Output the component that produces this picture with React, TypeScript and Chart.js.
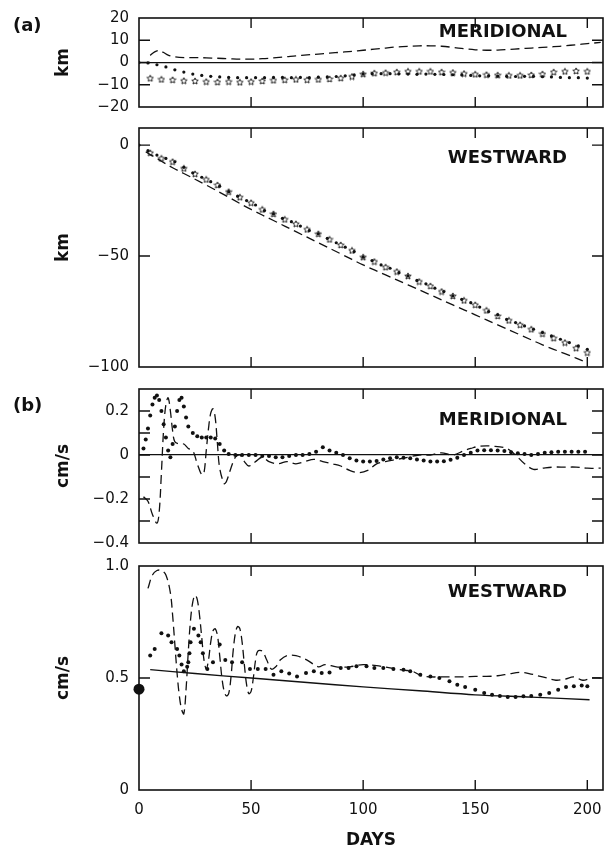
import React, { useEffect, useRef } from 'react';
import { Chart, registerables } from 'chart.js';
Chart.register(...registerables);

const FONT = "'DejaVu Sans', sans-serif";
const INK = '#111';

// ---------- shared x axis ----------
const X_MIN = 0;
const X_MAX = 207;
const X_TICKS = [0, 50, 100, 150, 200];
const X_TICK_LABELS = ['0', '50', '100', '150', '200'];

// ---------- (a) MERIDIONAL, km ----------
const A1_Y_TICKS = [-20, -10, 0, 10, 20];
const A1_Y_LABELS = ['\u221220', '\u221210', '0', '10', '20'];
const A1_DASH_DAYS = [5, 7, 9, 11, 13, 15, 18, 22, 26, 30, 35, 40, 45, 50, 55, 60, 65, 70, 75, 80, 85, 90, 95, 100, 105, 110, 115, 120, 125, 130, 135, 140, 145, 150, 155, 160, 165, 170, 175, 180, 185, 190, 195, 200, 206];
const A1_DASH_KM = [3.2, 4.8, 5.4, 4.5, 3.3, 2.7, 2.3, 2.2, 2.2, 2.1, 1.9, 1.7, 1.5, 1.5, 1.7, 2.1, 2.5, 3.0, 3.4, 3.8, 4.2, 4.6, 5.0, 5.5, 6.0, 6.5, 7.0, 7.3, 7.5, 7.5, 7.3, 6.8, 6.2, 5.7, 5.5, 5.6, 5.9, 6.2, 6.5, 6.8, 7.1, 7.5, 8.0, 8.5, 9.0];
const A1_DOT_DAYS = [0, 4, 8, 12, 16, 20, 24, 28, 32, 36, 40, 44, 48, 52, 56, 60, 64, 68, 72, 76, 80, 84, 88, 92, 96, 100, 104, 108, 112, 116, 120, 124, 128, 132, 136, 140, 144, 148, 152, 156, 160, 164, 168, 172, 176, 180, 184, 188, 192, 196, 200];
const A1_DOT_KM = [0, -0.2, -1.0, -2.0, -3.3, -4.3, -5.2, -5.8, -6.2, -6.5, -6.7, -6.8, -6.8, -6.8, -6.8, -6.7, -6.7, -6.8, -6.7, -6.8, -6.6, -6.5, -6.3, -6.0, -5.6, -5.2, -5.0, -5.0, -5.0, -5.1, -5.2, -5.3, -5.2, -5.3, -5.4, -5.5, -5.6, -5.8, -6.0, -6.0, -6.1, -6.2, -6.3, -6.2, -6.2, -6.4, -6.5, -6.7, -6.8, -6.8, -7.0];
const A1_STAR_DAYS = [5, 10, 15, 20, 25, 30, 35, 40, 45, 50, 55, 60, 65, 70, 75, 80, 85, 90, 95, 100, 105, 110, 115, 120, 125, 130, 135, 140, 145, 150, 155, 160, 165, 170, 175, 180, 185, 190, 195, 200];
const A1_STAR_KM = [-7.1, -7.6, -7.8, -8.2, -8.3, -8.6, -8.8, -8.6, -8.9, -8.6, -8.3, -8.0, -7.8, -7.6, -7.8, -7.6, -7.4, -7.0, -6.3, -5.2, -4.8, -4.6, -4.3, -4.0, -4.0, -4.0, -4.3, -4.5, -5.0, -5.3, -5.5, -5.7, -5.8, -5.8, -5.6, -5.2, -4.3, -4.0, -3.8, -4.0];

// ---------- (a) WESTWARD, km ----------
const A2_Y_TICKS = [-100, -50, 0];
const A2_Y_LABELS = ['\u2212100', '\u221250', '0'];
const A2_DASH_DAYS = [3, 5, 8, 10, 15, 20, 30, 40, 50, 60, 70, 80, 90, 100, 110, 120, 130, 140, 150, 160, 170, 180, 190, 200];
const A2_DASH_KM = [-3, -4.3, -6, -7.3, -10.2, -12.8, -18, -23.5, -29, -34, -39, -44, -49, -54, -58.5, -63, -67.5, -72, -76.5, -81, -85.5, -90, -94, -98];
const A2_DOT_DAYS = [0, 4, 8, 12, 16, 20, 24, 28, 32, 36, 40, 44, 48, 52, 56, 60, 64, 68, 72, 76, 80, 84, 88, 92, 96, 100, 104, 108, 112, 116, 120, 124, 128, 132, 136, 140, 144, 148, 152, 156, 160, 164, 168, 172, 176, 180, 184, 188, 192, 196, 200];
const A2_DOT_KM = [0, -2.5, -4.5, -6, -7.5, -10, -12.5, -14.5, -16.5, -18.5, -21, -23, -25, -27, -29.5, -31, -33, -34.5, -36.5, -38.5, -40, -42, -44, -46, -48, -50.5, -52, -54, -55.5, -57.5, -59, -61, -62.5, -64.5, -66, -68, -69.5, -71, -73, -75, -76.5, -78.5, -80, -81.5, -83, -84.5, -86, -87.5, -89, -90.5, -92];
const A2_STAR_DAYS = [5, 10, 15, 20, 25, 30, 35, 40, 45, 50, 55, 60, 65, 70, 75, 80, 85, 90, 95, 100, 105, 110, 115, 120, 125, 130, 135, 140, 145, 150, 155, 160, 165, 170, 175, 180, 185, 190, 195, 200];
const A2_STAR_KM = [-3.5, -6, -7.5, -10.5, -13, -15.5, -18, -21, -23.5, -26, -29, -31, -33.5, -35.5, -38, -40, -42.5, -45, -47.5, -50.5, -52.5, -55, -57, -59, -61.5, -63.5, -66, -68, -70, -72, -74.5, -77, -79, -81, -83, -85, -87, -89, -91.5, -93.5];

// ---------- (b) MERIDIONAL, cm/s ----------
const B1_Y_TICKS = [-0.4, -0.3, -0.2, -0.1, 0, 0.1, 0.2];
const B1_Y_LABELS = ['\u22120.4', '', '\u22120.2', '', '0', '', '0.2'];
const B1_DASH_DAYS = [2, 4, 6, 8, 9, 10, 11, 12, 13, 14, 15, 16, 18, 20, 22, 24, 26, 28, 29, 30, 31, 32, 33, 34, 35, 36, 38, 39, 41, 43, 45, 47, 49, 52, 55, 58, 62, 66, 70, 74, 78, 82, 86, 90, 94, 98, 102, 106, 110, 115, 120, 125, 130, 135, 140, 145, 148, 152, 158, 164, 168, 172, 176, 180, 185, 190, 195, 200, 206];
const B1_DASH_V = [-0.19, -0.21, -0.27, -0.31, -0.26, -0.08, 0.12, 0.23, 0.26, 0.2, 0.11, 0.06, 0.05, 0.05, 0.03, 0.02, -0.04, -0.09, -0.08, 0.02, 0.12, 0.19, 0.21, 0.17, 0.05, -0.06, -0.13, -0.12, -0.06, -0.01, 0.0, -0.03, -0.05, -0.03, -0.01, -0.03, -0.04, -0.03, -0.04, -0.03, -0.02, -0.03, -0.04, -0.05, -0.07, -0.08, -0.07, -0.04, -0.03, -0.02, -0.01, 0.0, 0.0, 0.01, 0.0, 0.02, 0.03, 0.04, 0.04, 0.03, 0.0, -0.04, -0.065, -0.06, -0.055, -0.055, -0.055, -0.06, -0.06];
const B1_DOT_DAYS = [2, 3, 4, 5, 6, 7, 8, 9, 10, 11, 12, 13, 14, 15, 16, 17, 18, 19, 20, 21, 22, 24, 26, 28, 30, 32, 34, 36, 38, 40, 43, 46, 49, 52, 55, 58, 61, 64, 67, 70, 73, 76, 79, 82, 85, 88, 91, 94, 97, 100, 103, 106, 109, 112, 115, 118, 121, 124, 127, 130, 133, 136, 139, 142, 145, 148, 151, 154, 157, 160, 163, 166, 169, 172, 175, 178, 181, 184, 187, 190, 193, 196, 199];
const B1_DOT_V = [0.03, 0.07, 0.12, 0.18, 0.23, 0.26, 0.27, 0.25, 0.2, 0.14, 0.08, 0.02, -0.01, 0.05, 0.13, 0.2, 0.25, 0.26, 0.22, 0.17, 0.13, 0.1, 0.085, 0.08, 0.08, 0.08, 0.075, 0.05, 0.02, 0.005, 0.0, 0.0, 0.0, 0.0, -0.005, -0.005, -0.01, -0.01, -0.005, 0.0, 0.0, 0.005, 0.015, 0.035, 0.02, 0.01, 0.0, -0.015, -0.025, -0.03, -0.03, -0.027, -0.02, -0.015, -0.01, -0.012, -0.015, -0.02, -0.025, -0.03, -0.03, -0.028, -0.022, -0.012, 0.0, 0.01, 0.02, 0.022, 0.022, 0.02, 0.018, 0.012, 0.008, 0.004, 0.0, 0.005, 0.01, 0.013, 0.015, 0.015, 0.015, 0.015, 0.015];

// ---------- (b) WESTWARD, cm/s ----------
const B2_Y_TICKS = [0, 0.5, 1.0];
const B2_Y_LABELS = ['0', '0.5', '1.0'];
const B2_DASH_DAYS = [4, 6, 8, 10, 12, 14, 15, 16, 17, 18, 19, 20, 21, 22, 23, 24, 25, 26, 27, 28, 29, 30, 31, 32, 33, 34, 35, 36, 37, 38, 39, 40, 41, 42, 43, 44, 45, 46, 47, 48, 49, 50, 51, 52, 53, 55, 57, 59, 61, 63, 66, 70, 75, 80, 83, 88, 94, 100, 106, 112, 118, 122, 126, 130, 135, 140, 145, 150, 155, 160, 165, 170, 174, 178, 182, 186, 190, 194, 198, 202, 206];
const B2_DASH_V = [0.9, 0.96, 0.98, 0.98, 0.96, 0.88, 0.78, 0.65, 0.52, 0.42, 0.36, 0.34, 0.45, 0.62, 0.76, 0.84, 0.87, 0.85, 0.78, 0.68, 0.58, 0.54, 0.58, 0.66, 0.71, 0.72, 0.69, 0.6, 0.5, 0.44, 0.42, 0.43, 0.5, 0.62, 0.7, 0.73, 0.72, 0.66, 0.56, 0.47, 0.43, 0.44, 0.5, 0.58, 0.62, 0.62, 0.58, 0.54, 0.55, 0.58, 0.6, 0.6, 0.58, 0.55, 0.56, 0.55, 0.55, 0.56, 0.555, 0.545, 0.535, 0.53, 0.51, 0.505, 0.505, 0.505, 0.505, 0.507, 0.507, 0.51, 0.518, 0.525, 0.52, 0.51, 0.5, 0.49, 0.495, 0.505, 0.49, 0.5, 0.5];
const B2_DOT_DAYS = [5, 7, 10, 13, 14.5, 17, 18, 19, 20, 21.5, 22, 22.5, 23, 24.5, 26.5, 27.5, 28.5, 30.5, 33, 36, 38.5, 41.5, 46, 49.5, 53, 56.5, 60, 63.5, 67, 70.5, 74.5, 78, 81.5, 85, 90, 93.5, 97, 101.5, 105, 109, 113.5, 118, 121, 125.5, 130, 134, 138.5, 142, 145.5, 150, 154, 157.5, 161, 164.5, 168, 171.5, 175, 179, 183, 187, 190.5, 194, 197.5, 200];
const B2_DOT_V = [0.6, 0.63, 0.7, 0.69, 0.66, 0.63, 0.6, 0.56, 0.53, 0.55, 0.57, 0.61, 0.66, 0.72, 0.69, 0.66, 0.61, 0.54, 0.57, 0.65, 0.58, 0.57, 0.57, 0.54, 0.54, 0.54, 0.515, 0.53, 0.52, 0.507, 0.522, 0.53, 0.522, 0.525, 0.545, 0.545, 0.552, 0.552, 0.545, 0.545, 0.54, 0.537, 0.53, 0.515, 0.507, 0.5, 0.485, 0.47, 0.46, 0.448, 0.433, 0.425, 0.42, 0.415, 0.415, 0.418, 0.42, 0.425, 0.433, 0.448, 0.46, 0.463, 0.466, 0.463];
const B2_SOLID_DAYS = [5, 25, 50, 75, 100, 125, 150, 175, 201];
const B2_SOLID_V = [0.537, 0.52, 0.5, 0.48, 0.46, 0.443, 0.425, 0.415, 0.403];
const B2_START_DAY = [0];
const B2_START_V = [0.45];

const pts = (xs: number[], ys: number[]) => xs.map((x, i) => ({ x, y: ys[i] }));

function makeStar(): HTMLCanvasElement {
  const c = document.createElement('canvas');
  c.width = 8;
  c.height = 8;
  const g = c.getContext('2d')!;
  g.strokeStyle = INK;
  g.lineWidth = 0.9;
  g.beginPath();
  for (let i = 0; i < 10; i++) {
    const r = i % 2 === 0 ? 3.4 : 1.6;
    const a = -Math.PI / 2 + (i * Math.PI) / 5;
    const px = 4 + r * Math.cos(a);
    const py = 4.3 + r * Math.sin(a);
    if (i === 0) g.moveTo(px, py);
    else g.lineTo(px, py);
  }
  g.closePath();
  g.stroke();
  return c;
}

const dashDs = (xs: number[], ys: number[]) => ({
  data: pts(xs, ys),
  borderColor: INK,
  borderWidth: 1.3,
  borderDash: [9, 5],
  pointRadius: 0,
  tension: 0.35,
  fill: false,
});
const solidDs = (xs: number[], ys: number[]) => ({
  data: pts(xs, ys),
  borderColor: INK,
  borderWidth: 1.3,
  pointRadius: 0,
  tension: 0.3,
  fill: false,
});
const dotDs = (xs: number[], ys: number[], r: number) => ({
  data: pts(xs, ys),
  showLine: false,
  pointRadius: r,
  pointBackgroundColor: INK,
  pointBorderWidth: 0,
  borderColor: INK,
});
const starDs = (xs: number[], ys: number[], img: HTMLCanvasElement) => ({
  data: pts(xs, ys),
  showLine: false,
  pointStyle: img,
  borderColor: INK,
});

const framePlugin = {
  id: 'frame',
  afterDraw(chart: any, _args: any, opts: any) {
    const { ctx, chartArea } = chart;
    const { left, right, top, bottom } = chartArea;
    const xs = chart.scales.x;
    const ys = chart.scales.y;
    ctx.save();
    ctx.strokeStyle = INK;
    ctx.lineWidth = 1.6;
    ctx.strokeRect(left, top, right - left, bottom - top);
    ctx.lineWidth = 1.4;
    ctx.beginPath();
    const L = 10;
    xs.ticks.forEach((t: any) => {
      const px = xs.getPixelForValue(t.value);
      if (px <= left + 2 || px >= right - 2) return;
      ctx.moveTo(px, top);
      ctx.lineTo(px, top + L);
      ctx.moveTo(px, bottom);
      ctx.lineTo(px, bottom - L);
    });
    ys.ticks.forEach((t: any) => {
      const py = ys.getPixelForValue(t.value);
      if (py <= top + 2 || py >= bottom - 2) return;
      ctx.moveTo(left, py);
      ctx.lineTo(left + 11, py);
      ctx.moveTo(right, py);
      ctx.lineTo(right - 11, py);
    });
    ctx.stroke();
    ctx.fillStyle = INK;
    ctx.font = `bold 18px ${FONT}`;
    ctx.textAlign = 'right';
    ctx.textBaseline = 'middle';
    ctx.fillText(opts.label, opts.labelX, opts.labelY);
    ctx.restore();
  },
};

type Panel = {
  top: number;
  bottom: number;
  yMin: number;
  yMax: number;
  yTicks: number[];
  yLabels: string[];
  yTitle: string;
  label: string;
  labelY: number;
  zero: boolean;
  showX: boolean;
  datasets: any[];
};

function makeConfig(p: Panel): any {
  const H = 851;
  return {
    type: 'line',
    data: { datasets: p.datasets },
    plugins: [framePlugin],
    options: {
      animation: false,
      responsive: false,
      maintainAspectRatio: false,
      events: [],
      layout: { padding: { left: 40, right: 8, top: p.top, bottom: p.showX ? 0 : H - p.bottom } },
      plugins: {
        legend: { display: false },
        tooltip: { enabled: false },
        frame: { label: p.label, labelX: 567, labelY: p.labelY },
      },
      scales: {
        x: {
          type: 'linear',
          min: X_MIN,
          max: X_MAX,
          display: p.showX,
          afterBuildTicks: (s: any) => {
            s.ticks = X_TICKS.map((v) => ({ value: v }));
          },
          ticks: {
            autoSkip: false,
            maxRotation: 0,
            padding: 3,
            color: INK,
            font: { family: FONT, size: 15 },
            callback: (_v: any, i: number) => X_TICK_LABELS[i],
          },
          grid: { display: false },
          border: { display: false },
          title: {
            display: p.showX,
            text: 'DAYS',
            color: INK,
            font: { family: FONT, size: 17, weight: 'bold' },
            padding: { top: 0, bottom: 0 },
          },
          afterFit: (s: any) => {
            s.height = p.showX ? H - p.bottom : 0;
            s.paddingLeft = 0;
            s.paddingRight = 0;
          },
        },
        y: {
          type: 'linear',
          min: p.yMin,
          max: p.yMax,
          afterBuildTicks: (s: any) => {
            s.ticks = p.yTicks.map((v) => ({ value: v }));
          },
          ticks: {
            autoSkip: false,
            padding: 10,
            color: INK,
            font: { family: FONT, size: 15 },
            callback: (_v: any, i: number) => p.yLabels[i],
          },
          grid: {
            display: p.zero,
            drawTicks: false,
            lineWidth: 1.2,
            color: (c: any) => (c.tick && Math.abs(c.tick.value) < 1e-9 ? INK : 'rgba(0,0,0,0)'),
          },
          border: { display: false },
          title: {
            display: true,
            text: p.yTitle,
            color: INK,
            font: { family: FONT, size: 17, weight: 'bold' },
            padding: { top: 13, bottom: 0 },
          },
          afterFit: (s: any) => {
            s.width = 99;
            s.paddingTop = 0;
            s.paddingBottom = 0;
          },
        },
      },
    },
  };
}

export default function App() {
  const r1 = useRef<HTMLCanvasElement>(null);
  const r2 = useRef<HTMLCanvasElement>(null);
  const r3 = useRef<HTMLCanvasElement>(null);
  const r4 = useRef<HTMLCanvasElement>(null);

  useEffect(() => {
    const star = makeStar();
    const panels: Panel[] = [
      {
        top: 18, bottom: 107, yMin: -20, yMax: 20, yTicks: A1_Y_TICKS, yLabels: A1_Y_LABELS,
        yTitle: 'km', label: 'MERIDIONAL', labelY: 32, zero: true, showX: false,
        datasets: [
          dashDs(A1_DASH_DAYS, A1_DASH_KM),
          dotDs(A1_DOT_DAYS, A1_DOT_KM, 1.6),
          starDs(A1_STAR_DAYS, A1_STAR_KM, star),
        ],
      },
      {
        top: 128, bottom: 367, yMin: -100, yMax: 7.7, yTicks: A2_Y_TICKS, yLabels: A2_Y_LABELS,
        yTitle: 'km', label: 'WESTWARD', labelY: 158, zero: false, showX: false,
        datasets: [
          dashDs(A2_DASH_DAYS, A2_DASH_KM),
          dotDs(A2_DOT_DAYS, A2_DOT_KM, 1.6),
          starDs(A2_STAR_DAYS, A2_STAR_KM, star),
        ],
      },
      {
        top: 389, bottom: 543, yMin: -0.4, yMax: 0.3, yTicks: B1_Y_TICKS, yLabels: B1_Y_LABELS,
        yTitle: 'cm/s', label: 'MERIDIONAL', labelY: 420, zero: true, showX: false,
        datasets: [dashDs(B1_DASH_DAYS, B1_DASH_V), dotDs(B1_DOT_DAYS, B1_DOT_V, 2)],
      },
      {
        top: 566, bottom: 790, yMin: 0, yMax: 1.0, yTicks: B2_Y_TICKS, yLabels: B2_Y_LABELS,
        yTitle: 'cm/s', label: 'WESTWARD', labelY: 592, zero: false, showX: true,
        datasets: [
          dashDs(B2_DASH_DAYS, B2_DASH_V),
          solidDs(B2_SOLID_DAYS, B2_SOLID_V),
          dotDs(B2_DOT_DAYS, B2_DOT_V, 2),
          { ...dotDs(B2_START_DAY, B2_START_V, 5.5), clip: false },
        ],
      },
    ];
    const refs = [r1, r2, r3, r4];
    const charts = panels.map((p, i) => new Chart(refs[i].current!, makeConfig(p)));
    return () => charts.forEach((c) => c.destroy());
  }, []);

  const cv: React.CSSProperties = { position: 'absolute', left: 0, top: 0, width: 611, height: 851 };
  const lbl: React.CSSProperties = {
    position: 'absolute',
    left: 13,
    fontFamily: FONT,
    fontWeight: 'bold',
    fontSize: 18,
    lineHeight: '20px',
    color: INK,
  };
  return (
    <div style={{ position: 'absolute', left: 0, top: 0, width: 611, height: 851, background: '#fff' }}>
      <canvas ref={r1} width={611} height={851} style={cv} />
      <canvas ref={r2} width={611} height={851} style={cv} />
      <canvas ref={r3} width={611} height={851} style={cv} />
      <canvas ref={r4} width={611} height={851} style={cv} />
      <div style={{ ...lbl, top: 15 }}>(a)</div>
      <div style={{ ...lbl, top: 395 }}>(b)</div>
    </div>
  );
}
